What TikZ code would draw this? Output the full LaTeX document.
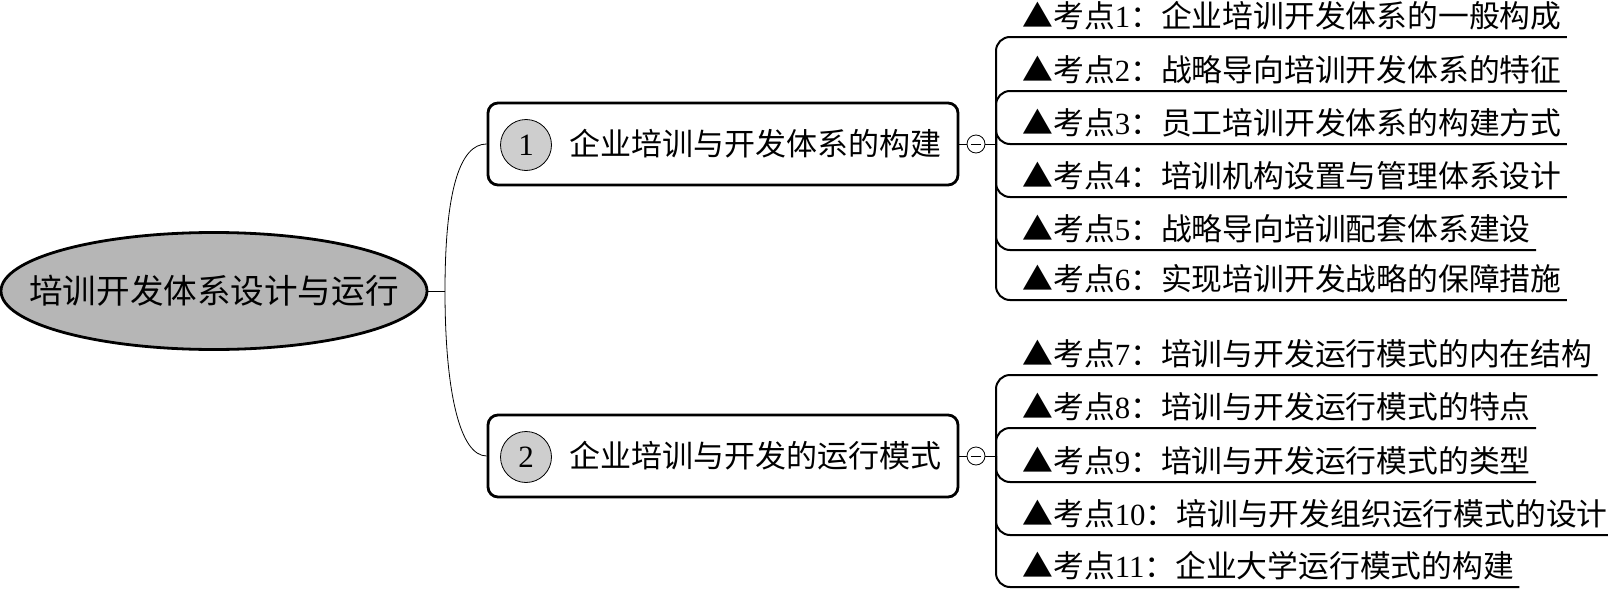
\documentclass[tikz,border=0pt]{standalone}
\usepackage{fontspec}
\setmainfont{Liberation Serif}
\newfontfamily\cjk{Noto Sans CJK SC}
\usepackage{tikz}
\usetikzlibrary{shapes.geometric, positioning}

\definecolor{rootgray}{RGB}{182,182,182}
\definecolor{numgray}{RGB}{206,206,206}
\newcommand{\kaodian}[2]{{\cjk ▲考点}#1{\cjk ：#2}}

\begin{document}
\begin{tikzpicture}[
x=0.5pt, y=-0.5pt,
    topic/.style={ellipse, draw, line width=1.4pt, fill=rootgray, minimum width=213pt, minimum height=58.5pt, inner sep=0pt},
    topictext/.style={inner sep=0pt, font=\cjk\fontsize{16.8}{20}\selectfont},
    branch/.style={rectangle, draw, line width=1.4pt, rounded corners=5pt, minimum width=235pt, minimum height=41pt},
    numdot/.style={circle, draw, thin, fill=numgray, minimum size=25.5pt, inner sep=0pt, font=\fontsize{15.5}{18}\selectfont},
    boxtext/.style={anchor=west, inner sep=0pt, font=\cjk\fontsize{15.5}{18}\selectfont},
    fold/.style={circle, draw, thin, minimum size=9pt, inner sep=0pt},
    leafnote/.style={anchor=base west, inner sep=0pt, font=\fontsize{15.4}{18}\selectfont},
    link/.style={draw, thin},
    leaf/.style={draw, line width=1pt, rounded corners=7pt}
]
    \useasboundingbox (0,0) rectangle (1608,589);

    % Root
    \node[topic] (root) at (214,291) {};
    \node[topictext] (rt) at (root) {培训开发体系设计与运行};

    % Branches
    \node[branch] (b1) at (723,144) {};
    \node[numdot] (n1) at (526,145) {1};
    \node[boxtext] (t1) at (569,144) {企业培训与开发体系的构建};

    \node[branch] (b2) at (723,456) {};
    \node[numdot] (n2) at (526,457) {2};
    \node[boxtext] (t2) at (569,456) {企业培训与开发的运行模式};

    % Fold markers
    \node[fold] (f1) at (976,144) {};
    \node[fold] (f2) at (976,456) {};
    \draw[link] ([xshift=-2.6pt]f1.center) -- ([xshift=2.6pt]f1.center);
    \draw[link] ([xshift=-2.6pt]f2.center) -- ([xshift=2.6pt]f2.center);

    % Junctions
    \coordinate (j0) at (445,291);
    \coordinate (j1) at (996,144);
    \coordinate (j2) at (996,456);

    % Key points of branch 1
    \node[leafnote] (k1) at (1022,27) {\kaodian{1}{企业培训开发体系的一般构成}};
    \node[leafnote] (k2) at (1022,81) {\kaodian{2}{战略导向培训开发体系的特征}};
    \node[leafnote] (k3) at (1022,134) {\kaodian{3}{员工培训开发体系的构建方式}};
    \node[leafnote] (k4) at (1022,187) {\kaodian{4}{培训机构设置与管理体系设计}};
    \node[leafnote] (k5) at (1022,240) {\kaodian{5}{战略导向培训配套体系建设}};
    \node[leafnote] (k6) at (1022,290) {\kaodian{6}{实现培训开发战略的保障措施}};

    % Key points of branch 2
    \node[leafnote] (k7) at (1022,365) {\kaodian{7}{培训与开发运行模式的内在结构}};
    \node[leafnote] (k8) at (1022,418) {\kaodian{8}{培训与开发运行模式的特点}};
    \node[leafnote] (k9) at (1022,472) {\kaodian{9}{培训与开发运行模式的类型}};
    \node[leafnote] (k10) at (1022,525) {\kaodian{10}{培训与开发组织运行模式的设计}};
    \node[leafnote] (k11) at (1022,577) {\kaodian{11}{企业大学运行模式的构建}};

    % Connect root and branches
    \draw[link] (root) -- (j0);
    \draw[link] (j0) .. controls (445,190) and (460,144) .. (b1.west);
    \draw[link] (j0) .. controls (445,392) and (460,456) .. (b2.west);

    \draw[link] (b1) -- (f1);
    \draw[link] (f1) -- (j1);
    \draw[link] (b2) -- (f2);
    \draw[link] (f2) -- (j2);

    % Underlines
    \draw[leaf] (j1) |- ([xshift=2.5pt, yshift=-5pt]k1.base east);
    \draw[leaf] (j1) |- ([xshift=2.5pt, yshift=-5pt]k2.base east);
    \draw[leaf] (j1) |- ([xshift=2.5pt, yshift=-5pt]k3.base east);
    \draw[leaf] (j1) |- ([xshift=2.5pt, yshift=-5pt]k4.base east);
    \draw[leaf] (j1) |- ([xshift=2.5pt, yshift=-5pt]k5.base east);
    \draw[leaf] (j1) |- ([xshift=2.5pt, yshift=-5pt]k6.base east);

    \draw[leaf] (j2) |- ([xshift=2.5pt, yshift=-5pt]k7.base east);
    \draw[leaf] (j2) |- ([xshift=2.5pt, yshift=-5pt]k8.base east);
    \draw[leaf] (j2) |- ([xshift=2.5pt, yshift=-5pt]k9.base east);
    \draw[leaf] (j2) |- ([xshift=2.5pt, yshift=-5pt]k10.base east);
    \draw[leaf] (j2) |- ([xshift=2.5pt, yshift=-5pt]k11.base east);

\end{tikzpicture}
\end{document}
